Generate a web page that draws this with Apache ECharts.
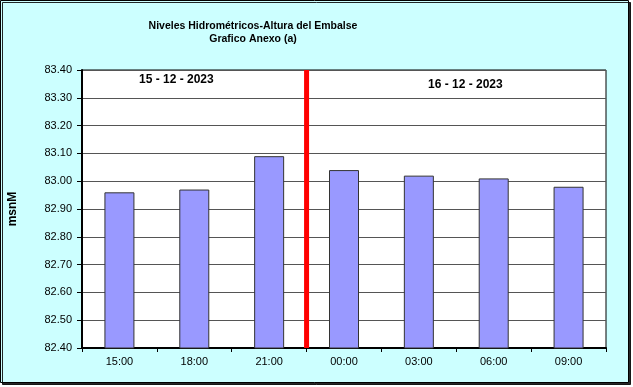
<!DOCTYPE html>
<html>
<head>
<meta charset="utf-8">
<script src="https://cdn.jsdelivr.net/npm/echarts@6/dist/echarts.min.js"></script>
<style>
html,body{margin:0;padding:0;background:#fff;}
#c{width:633px;height:387px;}
</style>
</head>
<body>
<div id="c"></div>
<script>
const categories = ['15:00', '18:00', '21:00', '00:00', '03:00', '06:00', '09:00'];
const levels = [82.96, 82.97, 83.09, 83.04, 83.02, 83.01, 82.98];
const dayDividerIndex = [3];
const dayLabels = ['15 - 12 - 2023', '16 - 12 - 2023'];
const yMin = 82.4, yMax = 83.4, yStep = 0.1;
const titleLines = ['Niveles Hidrométricos-Altura del Embalse', 'Grafico Anexo (a)'];
const yName = 'msnM';

const chart = echarts.init(document.getElementById('c'), null, {renderer: 'canvas'});
const font = 'Liberation Sans, Arial, sans-serif';
chart.setOption({
  backgroundColor: 'transparent',
  animation: false,
  textStyle: {fontFamily: font},
  title: {
    text: titleLines.join('\n'),
    left: 248, top: 15, textAlign: 'center',
    textStyle: {fontSize: 10.5, fontWeight: 'bold', color: '#000', lineHeight: 13, fontFamily: font}
  },
  graphic: [
    {type: 'rect', z: -10, shape: {x: 0.5, y: 0.5, width: 628, height: 382},
      style: {fill: '#CCFFFF', stroke: '#000', lineWidth: 1, shadowColor: 'rgba(0,0,0,0.85)', shadowOffsetX: 2, shadowOffsetY: 2, shadowBlur: 0}},
    {type: 'text', left: 139, top: 74, z: 10, style: {text: dayLabels[0], font: 'bold 12px ' + font, fill: '#000'}},
    {type: 'text', left: 428, top: 79, z: 10, style: {text: dayLabels[1], font: 'bold 12px ' + font, fill: '#000'}}
  ],
  grid: {left: 82, right: 27, top: 70, bottom: 39, show: true, backgroundColor: '#fff', borderColor: '#000', borderWidth: 1, containLabel: false, outerBoundsMode: 'none'},
  xAxis: [{
    type: 'category', data: categories, boundaryGap: true,
    axisLine: {lineStyle: {color: '#000', width: 2}},
    axisTick: {show: true, alignWithLabel: false, length: 4, lineStyle: {color: '#000'}},
    axisLabel: {color: '#000', fontSize: 11, margin: 8, fontFamily: font},
    splitLine: {show: false}
  }, {
    type: 'value', min: 0, max: categories.length, show: false, position: 'bottom'
  }],
  yAxis: {
    type: 'value', min: yMin, max: yMax, interval: yStep,
    name: yName, nameLocation: 'middle', nameGap: 63,
    nameTextStyle: {fontWeight: 'bold', fontSize: 12, color: '#000', fontFamily: font},
    axisLine: {show: true, lineStyle: {color: '#000', width: 2}},
    axisTick: {show: true, length: 5, lineStyle: {color: '#000'}},
    axisLabel: {color: '#000', fontSize: 11, margin: 10, fontFamily: font, formatter: v => v.toFixed(2)},
    splitLine: {show: true, lineStyle: {color: '#555', width: 1}}
  },
  series: [{
    type: 'bar', data: levels, barWidth: 30, xAxisIndex: 0,
    itemStyle: {color: '#9999FF', borderColor: '#333', borderWidth: 1}
  }, {
    type: 'line', xAxisIndex: 1, symbol: 'none', z: 5,
    data: [[dayDividerIndex[0], yMin], [dayDividerIndex[0], yMax]],
    lineStyle: {color: '#FF0000', width: 5}
  }]
});
</script>
</body>
</html>
